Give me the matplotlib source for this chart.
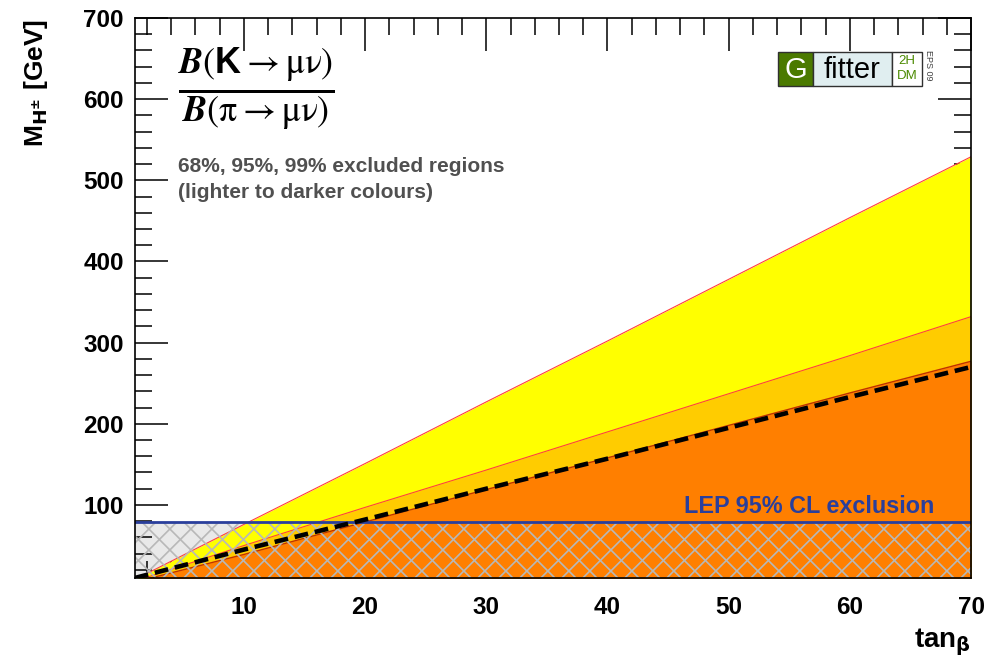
import matplotlib.pyplot as plt
import numpy as np
from matplotlib.patches import Rectangle
from matplotlib.collections import LineCollection

# boundary values (M_H in GeV vs tan(beta))
tanb = [1, 10, 20, 30, 40, 50, 60, 70]
m68 = [8, 76, 151, 227, 302, 378, 454, 529]
m95 = [6, 50, 97, 143, 190, 237, 284, 332]
m99 = [5, 39, 79, 119, 158, 198, 238, 277]
m_dash = [10, 45, 82, 120, 157, 195, 233, 270]
lep_limit = 79.3

plt.rcParams['font.family'] = ['Liberation Sans', 'DejaVu Sans']
plt.rcParams['font.weight'] = 'bold'
# fonts for the ratio formula
plt.rcParams['mathtext.fontset'] = 'custom'
plt.rcParams['mathtext.rm'] = 'STIXGeneral:weight=normal'
plt.rcParams['mathtext.it'] = 'STIXGeneral:italic:bold'
plt.rcParams['mathtext.bf'] = 'Liberation Sans:bold'

fig = plt.figure(figsize=(9.99, 6.61), dpi=100)
ax = fig.add_axes([0.135, 0.1256, 0.837, 0.8472])

x = np.array(tanb)
# grey background of the LEP excluded band
ax.fill_between([1, 70], 10, lep_limit, color='#e9e9e9', lw=0, zorder=1)
ax.fill_between(x, 0, m68, color='#ffff00', lw=0, zorder=2)
ax.fill_between(x, 0, m95, color='#ffcc00', lw=0, zorder=3)
ax.fill_between(x, 0, m99, color='#ff7f00', lw=0, zorder=4)
ax.plot(x, m68, color='#ff4040', lw=0.8, zorder=5)
ax.plot(x, m95, color='#ff4040', lw=0.8, zorder=5)
ax.plot(x, m99, color='#c03000', lw=1.0, zorder=5)

# cross hatch of the LEP band (45 degree lines)
W = 0.837 * 999
H = 0.8472 * 661
step = 21.0 / W
r = H / W
segs = []
for u in np.arange(-r, 1 + step, step):
    segs.append([(u, 0), (u + r, 1)])
    segs.append([(u + r, 0), (u, 1)])
clip = Rectangle((1, 10), 69, lep_limit - 10, facecolor='none',
                 edgecolor='none', lw=0)
ax.add_patch(clip)
lc = LineCollection(segs, colors='#b8b8b8', linewidths=1.2,
                    transform=ax.transAxes, zorder=6)
ax.add_collection(lc, autolim=False)
lc.set_clip_path(clip)

ax.axhline(lep_limit, color='#2a3f9c', lw=2, zorder=7)
ax.plot(x, m_dash, color='black', lw=3.3, ls=(0, (3.0, 1.5)), zorder=8)

ax.text(67.0, 90, 'LEP 95% CL exclusion', color='#2a3f9c', fontsize=16.8,
        fontweight='bold', ha='right', va='baseline', zorder=9)

ax.set_xlim(1, 70)
ax.set_ylim(10, 700)
ax.set_xticks([10, 20, 30, 40, 50, 60, 70])
ax.set_xticks(np.arange(2, 71, 2), minor=True)
ax.set_yticks([100, 200, 300, 400, 500, 600, 700])
ax.set_yticks(np.arange(20, 701, 20), minor=True)
ax.tick_params(which='both', direction='in', top=True, right=True,
               labelsize=17.5, width=1.1)
ax.tick_params(axis='x', which='major', pad=13)
ax.tick_params(axis='y', which='major', pad=8)
ax.tick_params(which='major', length=24)
ax.tick_params(which='minor', length=12)
for lab in ax.get_xticklabels() + ax.get_yticklabels():
    lab.set_fontweight('bold')
for s in ax.spines.values():
    s.set_linewidth(1.2)
    s.set_zorder(10)

fig.text(0.972, 0.005, r'tan$_\mathrm{\beta}$', fontsize=20, fontweight='bold',
         ha='right', va='bottom', math_fontfamily='dejavusans')
fig.text(0.022, 0.972, r'M$_{\mathbf{H^{\pm}}}$ [GeV]', fontsize=19,
         fontweight='bold', rotation=90, ha='left', va='top',
         math_fontfamily='dejavusans')

ax.text(0.051, 0.872,
        r'$\frac{\mathit{B}(\mathbf{K} \rightarrow \mathrm{\mu\nu})}'
        r'{\mathit{B}(\mathrm{\pi} \rightarrow \mathrm{\mu\nu})}$',
        transform=ax.transAxes, fontsize=37, ha='left', va='center')
ax.text(0.051, 0.752, '68%, 95%, 99% excluded regions\n(lighter to darker colours)',
        transform=ax.transAxes, fontsize=15, color='#505050',
        fontweight='bold', ha='left', va='top', linespacing=1.5)

# Gfitter logo
fw, fh = 999.0, 661.0
def box(x0, y0, w, h, fc):
    fig.patches.append(Rectangle((x0 / fw, 1 - (y0 + h) / fh), w / fw, h / fh,
                                 transform=fig.transFigure, facecolor=fc,
                                 edgecolor='#303030', lw=1))
box(778, 52, 35, 34, '#4b7a00')
box(813, 52, 79, 34, '#e0eef0')
box(892, 52, 30, 34, 'white')
fig.text(795.5 / fw, 1 - 70 / fh, 'G', color='white', fontsize=21,
         fontweight='normal', ha='center', va='center')
fig.text(852 / fw, 1 - 70 / fh, 'fitter', color='black', fontsize=21,
         fontweight='normal', ha='center', va='center')
fig.text(907 / fw, 1 - 61 / fh, '2H', color='#4b8a00', fontsize=9.5,
         fontweight='normal', ha='center', va='center')
fig.text(907 / fw, 1 - 76 / fh, 'DM', color='#4b8a00', fontsize=9.5,
         fontweight='normal', ha='center', va='center')
fig.text(929 / fw, 1 - 65 / fh, 'EPS 09', color='#404040', fontsize=6.5,
         fontweight='normal', rotation=270, ha='center', va='center')

fig.savefig('out.png', dpi=100)
